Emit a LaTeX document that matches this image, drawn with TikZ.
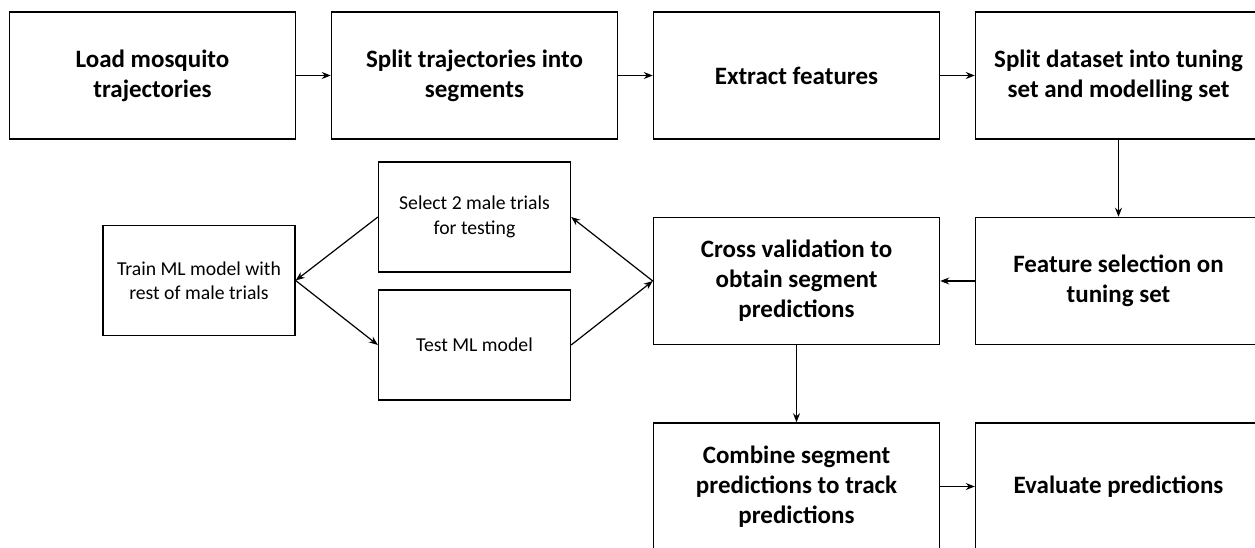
\documentclass[tikz,border=0pt]{standalone}
\usepackage{fontspec}
\setmainfont{Carlito}
\usepackage{tikz}
\usetikzlibrary{shapes.geometric, arrows.meta}
\tikzstyle{mainstep} = [rectangle,
                        minimum width=286pt,
                        minimum height=127pt,
                        text centered,
                        align=center,
                        line width=1.5pt,
                        draw=black,
                        font=\fontsize{25}{30}\selectfont\bfseries,
                       ]
\tikzstyle{substep} = [rectangle,
                       minimum width=192pt,
                       minimum height=110pt,
                       text centered,
                       align=center,
                       line width=1.3pt,
                       draw=black,
                       font=\fontsize{19.7}{24.5}\selectfont,
                      ]
\tikzstyle{arrow} = [line width=1.2pt,-{Stealth[length=9pt,width=7pt]}]

\begin{document}
\begin{tikzpicture}[x=1pt, y=1pt, node distance=322pt]

\useasboundingbox (0,0) rectangle (1255,-548);
\clip (0,0) rectangle (1255,-548);

% pipeline along the top
\node (load) [mainstep] at (152.5,-75.5) {Load mosquito\\trajectories};
\node (split) [mainstep, right of=load] {Split trajectories into\\segments};
\node (extract) [mainstep, right of=split] {Extract features};
\node (partition) [mainstep, right of=extract] {Split dataset into tuning\\set and modelling set};

\node (featsel) [mainstep, node distance=205.5pt, below of=partition] {Feature selection on\\tuning set};
\node (crossval) [mainstep, left of=featsel] {Cross validation to\\obtain segment\\predictions};
\node (combine) [mainstep, node distance=205.5pt, below of=crossval] {Combine segment\\predictions to track\\predictions};
\node (evaluate) [mainstep, right of=combine] {Evaluate predictions};

% inner loop of the cross validation
\node (select) [substep, left of=crossval, yshift=64pt] {Select 2 male trials\\for testing};
\node (test) [substep, left of=crossval, yshift=-64pt] {Test ML model};
\node (train) [substep, node distance=275.5pt, left of=select, yshift=-63.5pt] {Train ML model with\\rest of male trials};

\draw [arrow] (load) -- (split);
\draw [arrow] (split) -- (extract);
\draw [arrow] (extract) -- (partition);
\draw [arrow] (partition) -- (featsel);
\draw [arrow] (featsel) -- (crossval);
\draw [arrow] (crossval.west) -- (select.east);
\draw [arrow] (select.west) -- (train.east);
\draw [arrow] (train.east) -- (test.west);
\draw [arrow] (test.east) -- (crossval.west);
\draw [arrow] (crossval) -- (combine);
\draw [arrow] (combine) -- (evaluate);

\end{tikzpicture}
\end{document}
